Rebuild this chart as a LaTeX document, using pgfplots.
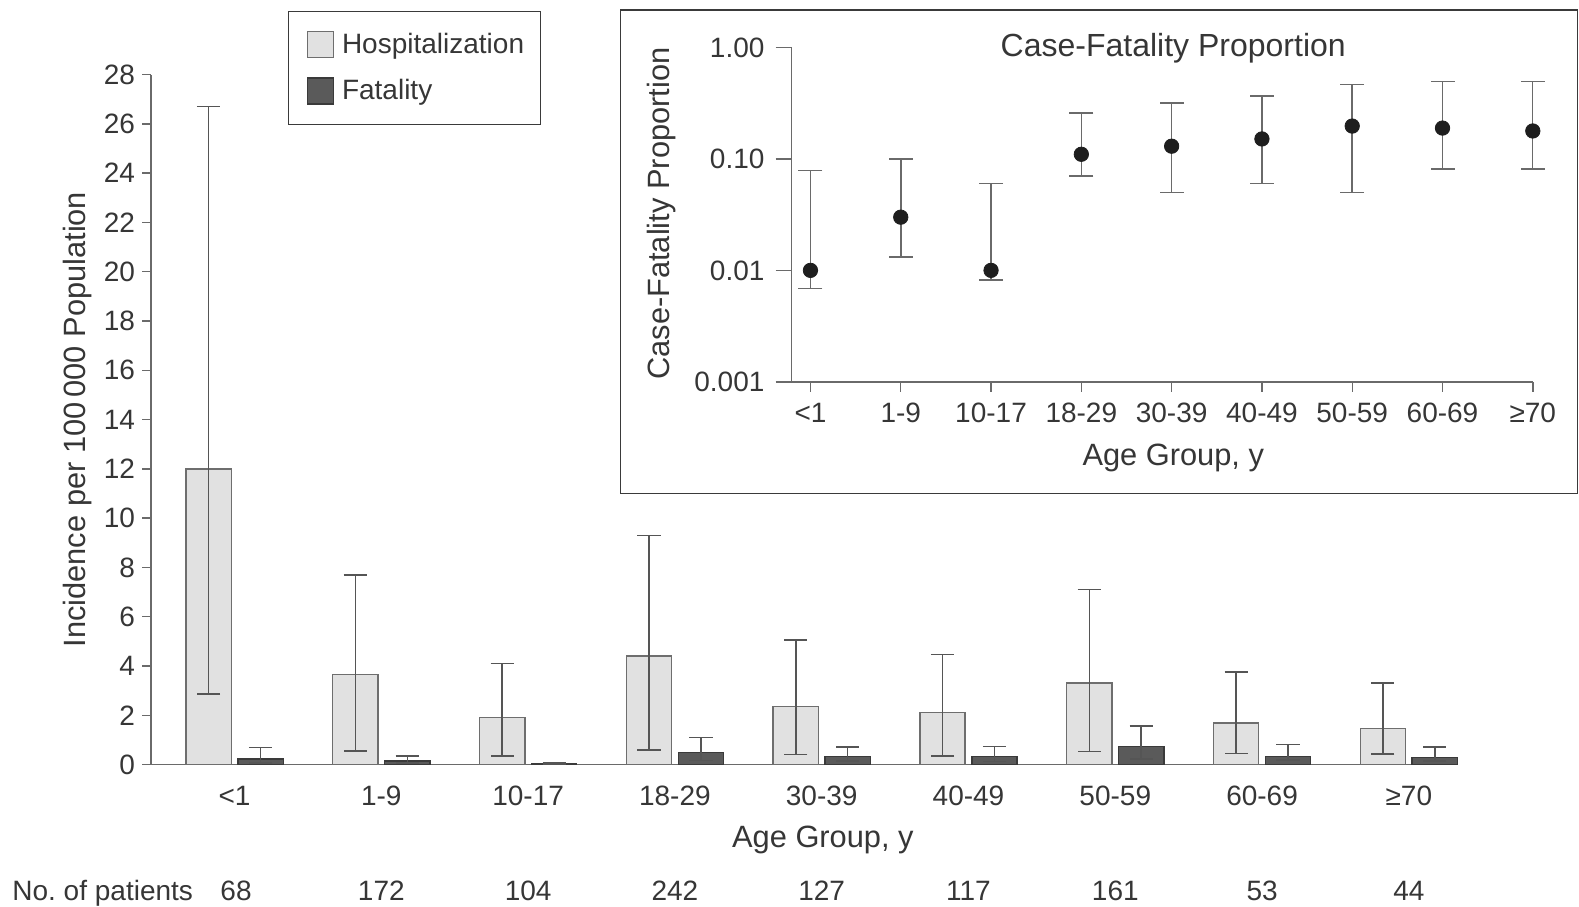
\documentclass[border=0pt]{standalone}
\usepackage{fontspec}
\setmainfont{Liberation Sans}
\usepackage{pgfplots}
\pgfplotsset{compat=1.18}
\usepackage{pgfplotstable}

\definecolor{hospfill}{HTML}{E1E1E1}
\definecolor{hospdraw}{HTML}{6E6E6E}
\definecolor{fatfill}{HTML}{5A5A5A}
\definecolor{fatdraw}{HTML}{3A3A3A}
\definecolor{errc}{HTML}{555555}
\definecolor{axisc}{HTML}{6A6A6A}
\definecolor{txtc}{HTML}{363636}
\definecolor{dotc}{HTML}{1E1E1E}

% incidence per 100000, with 95% CI bounds
\pgfplotstableread{
x hosp hlo hhi fat flo fhi
0 12.0 2.85 26.7 0.23 0.05 0.69
1 3.65 0.55 7.7 0.15 0.05 0.35
2 1.9 0.35 4.1 0.05 0.02 0.08
3 4.4 0.6 9.3 0.49 0.17 1.1
4 2.35 0.4 5.05 0.32 0.15 0.7
5 2.1 0.35 4.47 0.32 0.13 0.73
6 3.3 0.52 7.1 0.73 0.23 1.57
7 1.69 0.45 3.75 0.32 0.19 0.81
8 1.47 0.42 3.32 0.28 0.15 0.7
}\incidence

% case-fatality proportion
\pgfplotstableread{
x cfp
0 0.010
1 0.030
2 0.010
3 0.110
4 0.130
5 0.151
6 0.197
7 0.189
8 0.178
}\cfp

% CI segments (lo, hi, gap)
\pgfplotstableread{
x y
0 0.0069
0 0.079
0 nan
1 0.0132
1 0.100
1 nan
2 0.0082
2 0.060
2 nan
3 0.070
3 0.259
3 nan
4 0.050
4 0.319
4 nan
5 0.060
5 0.368
5 nan
6 0.050
6 0.463
6 nan
7 0.081
7 0.493
7 nan
8 0.081
8 0.493
}\cfpci

\newcommand{\tickfont}{\fontsize{14}{16}\selectfont}
\newcommand{\labfont}{\fontsize{15.4}{18}\selectfont}

\begin{document}
\begin{tikzpicture}
\useasboundingbox (-75.5pt,-71pt) rectangle (713.9pt,382.2pt);

\begin{axis}[
    name=main,
    at={(0pt,0pt)}, anchor=south west,
    scale only axis, clip=false,
    width=653.5pt, height=344.9pt,
    xmin=-0.569, xmax=8.336,
    ymin=0, ymax=28,
    axis x line*=bottom, axis y line*=left,
    axis line style={-, draw=axisc, line width=0.7pt},
    ybar, bar width=0.309,
    xtick={0,...,8},
    xticklabels={<1,1-9,10-17,18-29,30-39,40-49,50-59,60-69,≥70},
    x tick style={draw=none},
    ytick={0,2,...,28},
    tick align=outside,
    y tick style={draw=axisc, line width=0.7pt},
    major tick length=4.5pt,
    /pgf/number format/assume math mode=true,
    ticklabel style={font=\tickfont, text=txtc},
    xticklabel style={anchor=base, yshift=-16pt},
    ylabel={Incidence per 100\,000 Population},
    ylabel style={at={(axis description cs:-0.056,0.5)}, anchor=center, font=\labfont, text=txtc},
    xlabel={Age Group, y},
    xlabel style={at={(axis description cs:0.514,-0.1197)}, anchor=base, font=\labfont, text=txtc},
    legend style={at={(axis description cs:0.1048,1.092)}, anchor=north west,
        draw=fatdraw, line width=0.6pt, font=\tickfont, text=txtc,
        inner xsep=6pt, inner ysep=8.7pt, row sep=7.5pt,
        /tikz/every even column/.style={column sep=2pt}},
    legend cell align=left,
    legend image code/.code={%
        \path (0pt,0pt) (18pt,0pt);
        \draw[#1, line width=0.6pt] (3pt,-6.5pt) rectangle (16pt,6.5pt);},
    error bars/y dir=both, error bars/y explicit,
    error bars/error bar style={draw=errc, line width=0.8pt},
    error bars/error mark options={draw=errc, line width=0.8pt, mark size=5.8pt, rotate=90},
]
\addplot[fill=hospfill, draw=hospdraw, line width=0.7pt, bar shift=-0.177]
    table[x=x, y=hosp, y error plus expr=\thisrow{hhi}-\thisrow{hosp},
          y error minus expr=\thisrow{hosp}-\thisrow{hlo}] {\incidence};
\addplot[fill=fatfill, draw=fatdraw, line width=0.7pt, bar shift=0.177]
    table[x=x, y=fat, y error plus expr=\thisrow{fhi}-\thisrow{fat},
          y error minus expr=\thisrow{fat}-\thisrow{flo}] {\incidence};
\legend{Hospitalization, Fatality}

\node[anchor=base, font=\tickfont, text=txtc, yshift=-68pt] at (axis cs:0.01,0) {68};
\node[anchor=base, font=\tickfont, text=txtc, yshift=-68pt] at (axis cs:1,0) {172};
\node[anchor=base, font=\tickfont, text=txtc, yshift=-68pt] at (axis cs:2,0) {104};
\node[anchor=base, font=\tickfont, text=txtc, yshift=-68pt] at (axis cs:3,0) {242};
\node[anchor=base, font=\tickfont, text=txtc, yshift=-68pt] at (axis cs:4,0) {127};
\node[anchor=base, font=\tickfont, text=txtc, yshift=-68pt] at (axis cs:5,0) {117};
\node[anchor=base, font=\tickfont, text=txtc, yshift=-68pt] at (axis cs:6,0) {161};
\node[anchor=base, font=\tickfont, text=txtc, yshift=-68pt] at (axis cs:7,0) {53};
\node[anchor=base, font=\tickfont, text=txtc, yshift=-68pt] at (axis cs:8,0) {44};
\end{axis}

\node[anchor=base west, font=\tickfont, text=txtc, inner sep=0pt] at (-69.5pt,-68pt) {No.\ of patients};

\draw[draw=fatdraw, line width=0.7pt] (234.6pt,135.4pt) rectangle (713.2pt,377.1pt);

\begin{axis}[
    name=inset,
    at={(320.2pt,191.3pt)}, anchor=south west,
    scale only axis,
    width=370.6pt, height=167.2pt,
    ymode=log, ymin=0.001, ymax=1,
    xmin=-0.21, xmax=8,
    axis x line*=bottom, axis y line*=left,
    axis line style={-, draw=axisc, line width=0.7pt},
    xtick={0,...,8},
    xticklabels={<1,1-9,10-17,18-29,30-39,40-49,50-59,60-69,≥70},
    ytick={0.001,0.01,0.1,1},
    yticklabels={0.001,0.01,0.10,1.00},
    yminorticks=false,
    tick align=outside,
    major tick length=8pt,
    tick style={draw=axisc, line width=0.7pt},
    x tick style={/pgfplots/major tick length=5pt},
    ticklabel style={font=\tickfont, text=txtc},
    xticklabel style={anchor=base, yshift=-12.5pt},
    yticklabel style={xshift=-2pt},
    ylabel={Case-Fatality Proportion},
    ylabel style={at={(axis description cs:-0.1754,0.503)}, anchor=center, font=\labfont, text=txtc},
    xlabel={Age Group, y},
    xlabel style={at={(axis description cs:0.515,-0.25)}, anchor=base, font=\labfont, text=txtc},
    title={Case-Fatality Proportion},
    title style={at={(axis description cs:0.515,0.937)}, anchor=base, font=\fontsize{16}{18}\selectfont, text=txtc},
    unbounded coords=jump,
]
\addplot[draw=axisc, line width=0.8pt, mark=-, mark size=6pt,
    mark options={draw=axisc, line width=0.8pt}] table[x=x, y=y] {\cfpci};
\addplot[only marks, mark=*, mark size=3.6pt, draw=dotc, fill=dotc] table[x=x, y=cfp] {\cfp};
\end{axis}
\end{tikzpicture}
\end{document}
